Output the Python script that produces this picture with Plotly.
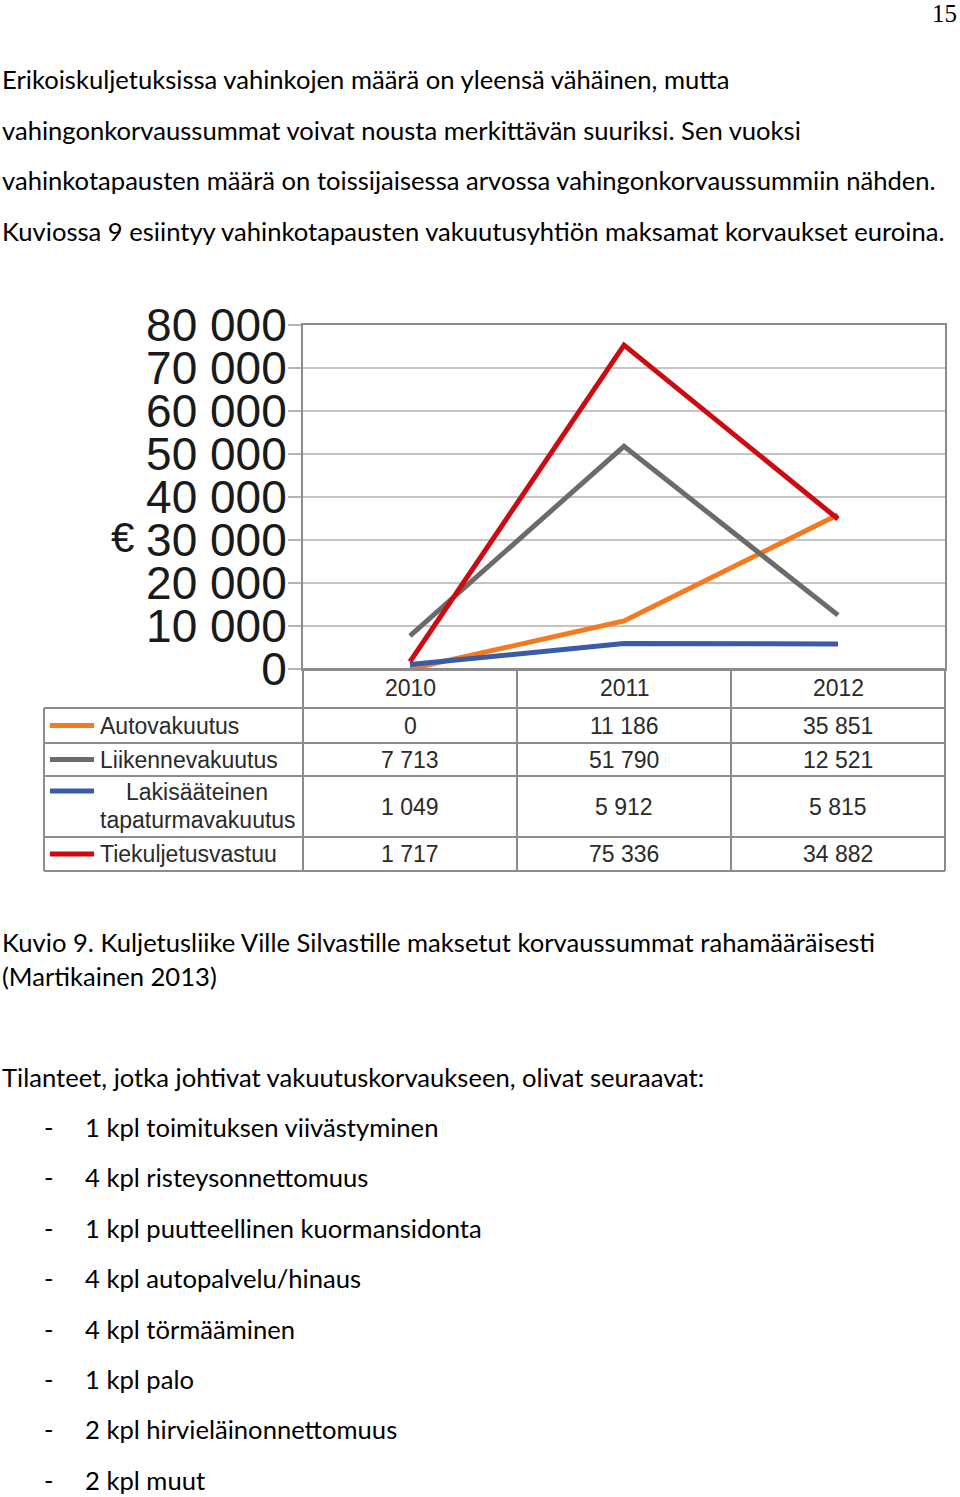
import plotly.graph_objects as go

W, H = 960, 1497

years = ["2010", "2011", "2012"]
series_names = ["Autovakuutus", "Liikennevakuutus", "Lakisääteinen tapaturmavakuutus", "Tiekuljetusvastuu"]
autovakuutus = [0, 11186, 35851]
liikennevakuutus = [7713, 51790, 12521]
lakisaateinen = [1049, 5912, 5815]
tiekuljetusvastuu = [1717, 75336, 34882]
y_ticks = [0, 10000, 20000, 30000, 40000, 50000, 60000, 70000, 80000]
y_tick_labels = ["0", "10 000", "20 000", "30 000", "40 000", "50 000", "60 000", "70 000", "80 000"]

intro_lines = [
    "Erikoiskuljetuksissa vahinkojen määrä on yleensä vähäinen, mutta",
    "vahingonkorvaussummat voivat nousta merkittävän suuriksi. Sen vuoksi",
    "vahinkotapausten määrä on toissijaisessa arvossa vahingonkorvaussummiin nähden.",
    "Kuviossa 9 esiintyy vahinkotapausten vakuutusyhtiön maksamat korvaukset euroina.",
]
caption_lines = [
    "Kuvio 9. Kuljetusliike Ville Silvastille maksetut korvaussummat rahamääräisesti",
    "(Martikainen 2013)",
]
list_intro = "Tilanteet, jotka johtivat vakuutuskorvaukseen, olivat seuraavat:"
list_items = [
    "1 kpl toimituksen viivästyminen",
    "4 kpl risteysonnettomuus",
    "1 kpl puutteellinen kuormansidonta",
    "4 kpl autopalvelu/hinaus",
    "4 kpl törmääminen",
    "1 kpl palo",
    "2 kpl hirvieläinonnettomuus",
    "2 kpl muut",
]

colors = {"Autovakuutus": "#F47A20", "Liikennevakuutus": "#6B6B6B",
          "Lakisääteinen tapaturmavakuutus": "#3A5BA6", "Tiekuljetusvastuu": "#CC0A0F"}
data = {"Autovakuutus": autovakuutus, "Liikennevakuutus": liikennevakuutus,
        "Lakisääteinen tapaturmavakuutus": lakisaateinen, "Tiekuljetusvastuu": tiekuljetusvastuu}


def px(x):
    return x / W


def py(y):
    return 1 - y / H


PL, PR, PT, PB = 303, 945, 325, 669

fig = go.Figure()
draw_order = ["Autovakuutus", "Lakisääteinen tapaturmavakuutus", "Liikennevakuutus", "Tiekuljetusvastuu"]
for name in draw_order:
    fig.add_trace(go.Scatter(x=list(range(len(years))), y=data[name], mode="lines",
                             line=dict(color=colors[name], width=5), showlegend=False))

fig.update_layout(
    width=W, height=H, margin=dict(l=0, r=0, t=0, b=0, pad=0, autoexpand=False),
    paper_bgcolor="white", plot_bgcolor="white",
    xaxis=dict(domain=[px(PL), px(PR)], range=[-0.5, 2.5], showticklabels=False,
               showgrid=False, zeroline=False, showline=True, linecolor="#8c8c8c",
               linewidth=2, mirror=True, fixedrange=True, automargin=False),
    yaxis=dict(domain=[py(PB), py(PT)], range=[0, 80000], tickvals=y_ticks,
               ticktext=y_tick_labels, ticks="outside", ticklen=13, tickcolor="#b5b5b5",
               tickwidth=2, showgrid=True, gridcolor="#c4c4c4", gridwidth=2, zeroline=False,
               showline=True, linecolor="#8c8c8c", linewidth=2, mirror=True,
               tickfont=dict(family="Liberation Sans", size=46, color="#1a1a1a"),
               ticklabelstandoff=-8, fixedrange=True, automargin=False),
)

shapes = []
annotations = []

TL = 44
col_edges = [303, 517, 731, 945]
row_edges = [669, 708, 743, 776, 837, 871]
line_col = "#8c8c8c"
for i, y in enumerate(row_edges):
    x0 = TL if i >= 1 else PL
    shapes.append(dict(type="line", xref="paper", yref="paper", x0=px(x0), x1=px(945),
                       y0=py(y), y1=py(y), line=dict(color=line_col, width=2)))
shapes.append(dict(type="line", xref="paper", yref="paper", x0=px(TL), x1=px(TL),
                   y0=py(row_edges[1]), y1=py(row_edges[-1]), line=dict(color=line_col, width=2)))
for x in col_edges:
    shapes.append(dict(type="line", xref="paper", yref="paper", x0=px(x), x1=px(x),
                       y0=py(row_edges[0]), y1=py(row_edges[-1]), line=dict(color=line_col, width=2)))

tfont = dict(family="Liberation Sans", size=23, color="#2a2a2a")
for j, yr in enumerate(years):
    cx = (col_edges[j] + col_edges[j + 1]) / 2
    annotations.append(dict(x=px(cx), y=py((row_edges[0] + row_edges[1]) / 2), xref="paper", yref="paper",
                            text=yr, showarrow=False, font=tfont, xanchor="center", yanchor="middle"))


def fmt(v):
    return f"{v:,}".replace(",", " ")


for i, name in enumerate(series_names):
    yc = (row_edges[i + 1] + row_edges[i + 2]) / 2
    ly = yc if i != 2 else row_edges[3] + 15
    shapes.append(dict(type="line", xref="paper", yref="paper", x0=px(50), x1=px(94),
                       y0=py(ly), y1=py(ly), line=dict(color=colors[name], width=5)))
    if i == 2:
        annotations.append(dict(x=px(197), y=py(row_edges[3] + 16), xref="paper", yref="paper",
                                text="Lakisääteinen", showarrow=False, font=tfont,
                                xanchor="center", yanchor="middle"))
        annotations.append(dict(x=px(98), y=py(row_edges[3] + 44), xref="paper", yref="paper",
                                text="tapaturmavakuutus", showarrow=False, font=tfont,
                                xanchor="left", yanchor="middle"))
    else:
        annotations.append(dict(x=px(98), y=py(yc), xref="paper", yref="paper",
                                text=name, showarrow=False, font=tfont,
                                xanchor="left", yanchor="middle"))
    for j, v in enumerate(data[name]):
        cx = (col_edges[j] + col_edges[j + 1]) / 2
        annotations.append(dict(x=px(cx), y=py(yc), xref="paper", yref="paper", text=fmt(v),
                                showarrow=False, font=tfont, xanchor="center", yanchor="middle"))

annotations.append(dict(x=px(122), y=py(537), xref="paper", yref="paper", text="€", showarrow=False,
                        font=dict(family="Liberation Sans", size=42, color="#1a1a1a"),
                        xanchor="center", yanchor="middle"))

bfont = dict(family="Lato", size=25.6, color="#000000")


def txt(x, y, t, font=bfont, anchor="left"):
    annotations.append(dict(x=px(x), y=py(y), xref="paper", yref="paper", text=t, showarrow=False,
                            font=font, xanchor=anchor, yanchor="middle", borderpad=0))


txt(958, 14, "15", font=dict(family="Liberation Serif", size=25, color="#000"), anchor="right")
for k, line in enumerate(intro_lines):
    txt(1, 79 + k * 50.5, line)
for k, line in enumerate(caption_lines):
    txt(1, 942 + k * 34, line)
txt(1, 1077, list_intro)
for k, item in enumerate(list_items):
    yy = 1127 + k * 50.4
    txt(43, yy, "-")
    txt(84, yy, item)

fig.update_layout(shapes=shapes, annotations=annotations)
fig.write_html("out.html")
